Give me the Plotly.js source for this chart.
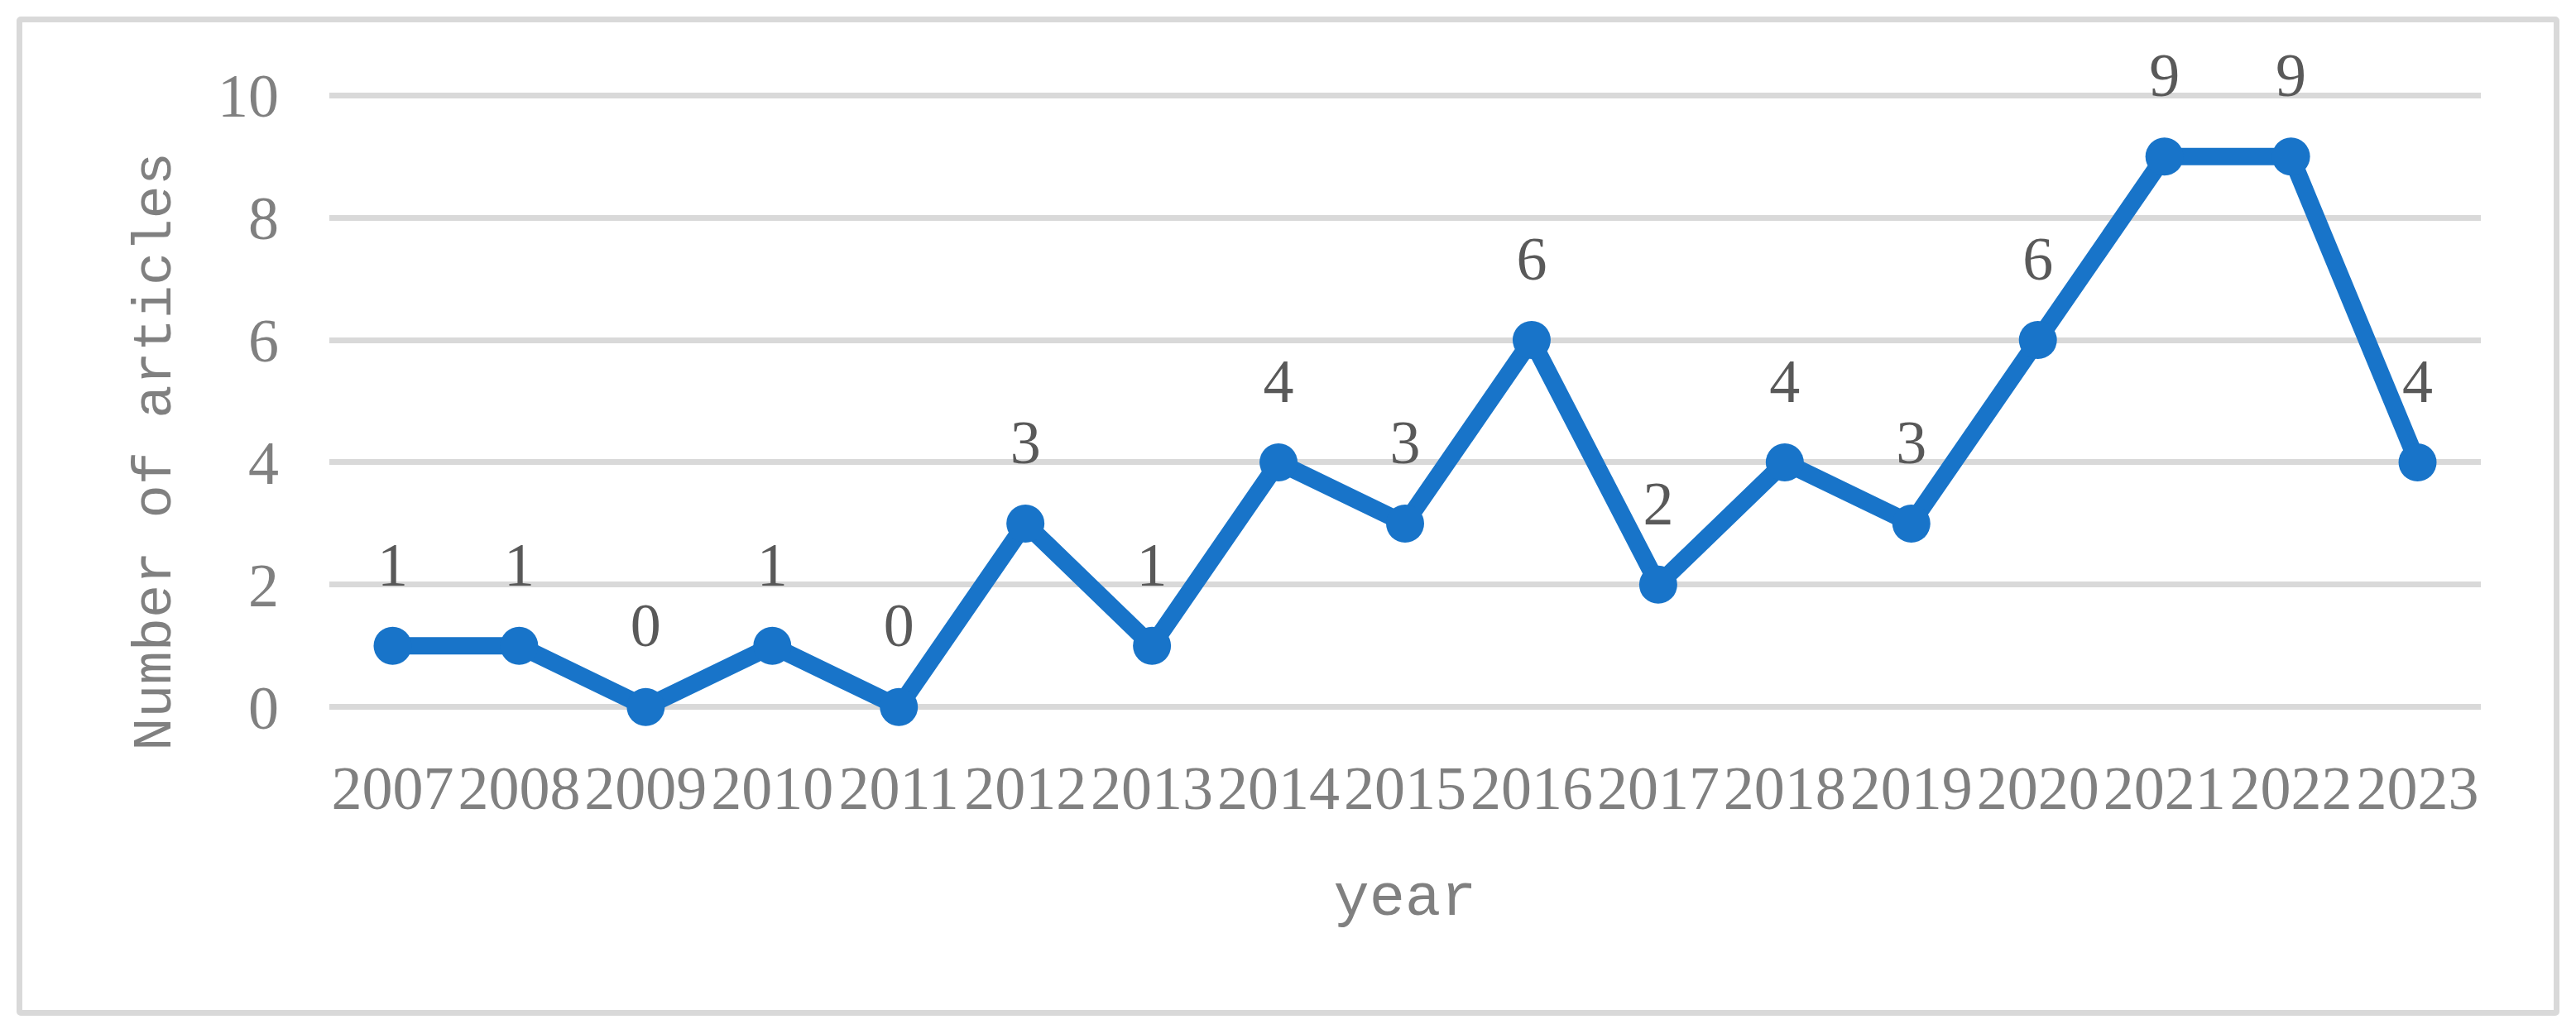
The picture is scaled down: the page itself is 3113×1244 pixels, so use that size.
<!DOCTYPE html>
<html>
<head>
<meta charset="utf-8">
<script src="https://cdn.plot.ly/plotly-3.0.1.min.js"></script>
<style>
  html, body { margin: 0; padding: 0; background: #ffffff; }
  #wrap { position: relative; width: 3113px; height: 1244px; background: #ffffff; }
  #frame { position: absolute; left: 20px; top: 20px; width: 3073px; height: 1208px;
           box-sizing: border-box; border: 7px solid #d9d9d9; border-radius: 5px; }
  #chart { position: absolute; left: 0; top: 0; width: 3113px; height: 1244px; }
</style>
</head>
<body>
<div id="wrap">
  <div id="frame"></div>
  <div id="chart"></div>
</div>
<script>
const years = ['2007','2008','2009','2010','2011','2012','2013','2014','2015','2016','2017','2018','2019','2020','2021','2022','2023'];
const articles = [1, 1, 0, 1, 0, 3, 1, 4, 3, 6, 2, 4, 3, 6, 9, 9, 4];
const yTicks = [0, 2, 4, 6, 8, 10];
const xTitle = 'year';
const yTitle = 'Number of articles';

const lineColor = '#1874C9';
const labelColor = '#595959';
const axisTextColor = '#808080';
const serif = '"Liberation Serif", "Times New Roman", serif';
const mono = '"Liberation Mono", "Courier New", monospace';

const lineTrace = {
  type: 'scatter',
  mode: 'lines+markers',
  x: years,
  y: articles,
  line: { color: lineColor, width: 21 },
  marker: { color: lineColor, size: 46 },
  cliponaxis: false,
  hoverinfo: 'x+y'
};

// data labels: text above each point (transparent marker used only to space the label)
const labelTrace = {
  type: 'scatter',
  mode: 'markers+text',
  x: years,
  y: articles,
  text: articles.map(String),
  textposition: 'top center',
  textfont: { family: serif, size: 74, color: labelColor },
  marker: { size: 86, color: 'rgba(0,0,0,0)' },
  cliponaxis: false,
  hoverinfo: 'skip'
};

const layout = {
  width: 3113, height: 1244,
  paper_bgcolor: 'rgba(0,0,0,0)',
  plot_bgcolor: 'rgba(0,0,0,0)',
  margin: { l: 398, r: 115, t: 107.6, b: 259.6, pad: 0 },
  showlegend: false,
  xaxis: {
    type: 'category',
    range: [-0.5, years.length - 0.5],
    anchor: 'free', position: 0.139,
    showgrid: false, zeroline: false, showline: false,
    ticks: '', ticklabelstandoff: 41,
    tickfont: { family: serif, size: 74, color: axisTextColor },
    title: { text: xTitle, standoff: 62,
      font: { family: mono, size: 72, color: axisTextColor } },
    automargin: false
  },
  yaxis: {
    range: [-1.749, 10.1],
    tickvals: yTicks,
    showgrid: true, gridcolor: '#d9d9d9', gridwidth: 7,
    zeroline: false, showline: false,
    ticks: '', ticklabelstandoff: 60,
    tickfont: { family: serif, size: 74, color: axisTextColor },
    title: { text: yTitle, standoff: 34,
      font: { family: mono, size: 67, color: axisTextColor } },
    automargin: false
  }
};

Plotly.newPlot('chart', [lineTrace, labelTrace], layout, { staticPlot: true, displayModeBar: false });
</script>
</body>
</html>
